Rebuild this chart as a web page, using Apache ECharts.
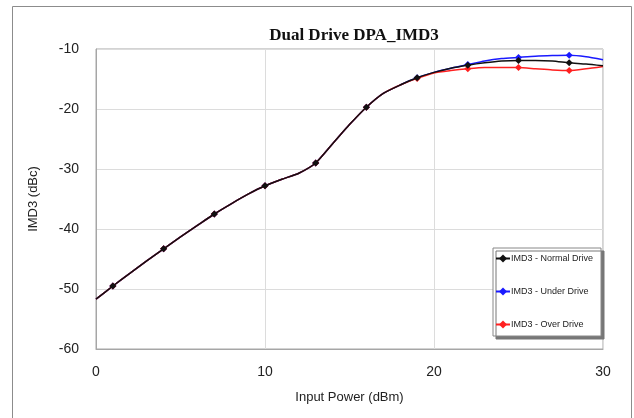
<!DOCTYPE html>
<html>
<head>
<meta charset="utf-8">
<script src="https://cdn.jsdelivr.net/npm/echarts@6/dist/echarts.min.js"></script>
<style>
  html, body { margin: 0; padding: 0; background: #fff; }
  #chart { width: 634px; height: 418px; }
</style>
</head>
<body>
<div id="chart"></div>
<script>
// input power (dBm)
var inputPower = [0, 1, 2, 3, 4, 5, 6, 7, 8, 9, 10, 11, 12, 13, 14, 15, 16, 17, 18, 19, 20, 21, 22, 23, 24, 25, 26, 27, 28, 29, 30];
// points that carry a marker
var markerAt = [1, 4, 7, 10, 13, 16, 19, 22, 25, 28];

var normalDrive = [-51.7, -49.5, -47.4, -45.3, -43.3, -41.3, -39.4, -37.5, -35.8, -34.2, -32.8, -31.7, -30.7, -29.0, -25.8, -22.6, -19.7, -17.4, -16.0, -14.8, -13.9, -13.2, -12.7, -12.3, -12.0, -11.9, -11.9, -12.0, -12.3, -12.5, -12.8];
var underDrive = [-51.7, -49.5, -47.4, -45.3, -43.3, -41.3, -39.4, -37.5, -35.8, -34.2, -32.8, -31.7, -30.7, -29.0, -25.8, -22.6, -19.7, -17.4, -16.0, -14.8, -13.9, -13.2, -12.6, -12.0, -11.6, -11.4, -11.2, -11.1, -11.05, -11.3, -11.8];
var overDrive = [-51.7, -49.5, -47.4, -45.3, -43.3, -41.3, -39.4, -37.5, -35.8, -34.2, -32.8, -31.7, -30.7, -29.0, -25.8, -22.6, -19.7, -17.4, -16.0, -14.9, -14.0, -13.6, -13.3, -13.1, -13.1, -13.1, -13.3, -13.5, -13.6, -13.3, -12.9];

var xTicks = [0, 10, 20, 30];
var yTicks = [-60, -50, -40, -30, -20, -10];

function toPoints(values) {
    return inputPower.map(function (x, i) {
        var show = markerAt.indexOf(x) >= 0;
        return { value: [x, values[i]], symbolSize: show ? 7 : 0 };
    });
}

function makeSeries(name, color, values, z) {
    return {
        name: name,
        type: 'line',
        smooth: 0.2,
        symbol: 'diamond',
        symbolSize: 7,
        showAllSymbol: true,
        z: z,
        lineStyle: { color: color, width: 1.5 },
        itemStyle: { color: color },
        data: toPoints(values)
    };
}

var chart = echarts.init(document.getElementById('chart'));
chart.setOption({
    animation: false,
    backgroundColor: '#fff',
    title: {
        text: 'Dual Drive DPA_IMD3',
        left: 349,
        textAlign: 'center',
        top: 22,
        textStyle: {
            fontFamily: 'Liberation Serif',
            fontWeight: 'bold',
            fontSize: 17,
            color: '#111'
        }
    },
    graphic: [{
        type: 'rect',
        shape: { x: 12.5, y: 6.5, width: 619, height: 430 },
        style: { fill: 'none', stroke: '#8c8c8c', lineWidth: 1 },
        silent: true
    }],
    legend: {
        orient: 'vertical',
        left: 493,
        top: 248,
        data: ['IMD3 - Normal Drive', 'IMD3 - Under Drive', 'IMD3 - Over Drive'],
        itemWidth: 14,
        itemHeight: 10,
        itemGap: 24,
        padding: [6, 8, 7, 2],
        backgroundColor: '#fff',
        borderColor: '#888',
        borderWidth: 1,
        shadowColor: '#777',
        shadowOffsetX: 3,
        shadowOffsetY: 3,
        shadowBlur: 0,
        textStyle: { fontFamily: 'Liberation Sans', fontSize: 9, color: '#222', padding: [0, 0, 0, -4] }
    },
    grid: {
        left: 96,
        right: 31,
        top: 49,
        bottom: 69,
        show: true,
        borderColor: '#a6a6a6',
        borderWidth: 1
    },
    xAxis: {
        type: 'value',
        min: 0,
        max: 30,
        interval: 10,
        name: 'Input Power (dBm)',
        nameLocation: 'middle',
        nameGap: 42,
        nameTextStyle: { fontFamily: 'Liberation Sans', fontSize: 13, color: '#222' },
        axisLine: { lineStyle: { color: '#a6a6a6' } },
        axisTick: { show: false },
        axisLabel: {
            margin: 16,
            fontFamily: 'Liberation Sans',
            fontSize: 14,
            color: '#222',
            formatter: function (v) { return xTicks.indexOf(v) >= 0 ? String(v) : ''; }
        },
        splitLine: { lineStyle: { color: '#dcdcdc' } }
    },
    yAxis: {
        type: 'value',
        min: -60,
        max: -10,
        interval: 10,
        name: 'IMD3 (dBc)',
        nameLocation: 'middle',
        nameRotate: 90,
        nameGap: 56,
        nameTextStyle: { fontFamily: 'Liberation Sans', fontSize: 13, color: '#222' },
        axisLine: { show: true, lineStyle: { color: '#a6a6a6' } },
        axisTick: { show: false },
        axisLabel: {
            margin: 17,
            fontFamily: 'Liberation Sans',
            fontSize: 14,
            color: '#222',
            formatter: function (v) { return yTicks.indexOf(v) >= 0 ? String(v) : ''; }
        },
        splitLine: { lineStyle: { color: '#dcdcdc' } }
    },
    series: [
        makeSeries('IMD3 - Under Drive', '#1a1aff', underDrive, 2),
        makeSeries('IMD3 - Over Drive', '#ff2020', overDrive, 3),
        makeSeries('IMD3 - Normal Drive', '#111111', normalDrive, 4)
    ]
});
</script>
</body>
</html>
